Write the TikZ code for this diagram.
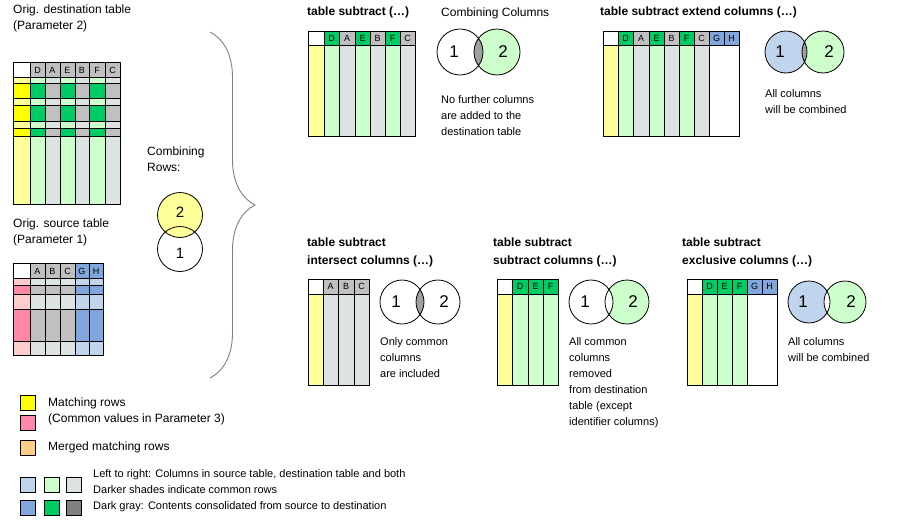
\documentclass[tikz,border=0pt]{standalone}
\usepackage{fontspec}
\setmainfont{Liberation Sans}
\usetikzlibrary{positioning,decorations.pathreplacing}

\definecolor{yelD}{HTML}{FFFF00}
\definecolor{yelL}{HTML}{FFFF99}
\definecolor{pinD}{HTML}{FF88A8}
\definecolor{pinL}{HTML}{FFCCCC}
\definecolor{grnD}{HTML}{00CC66}
\definecolor{grnL}{HTML}{CCFFCC}
\definecolor{gryD}{HTML}{C0C0C0}
\definecolor{gryL}{HTML}{DDE3E3}
\definecolor{bluD}{HTML}{7FA6DD}
\definecolor{bluL}{HTML}{C0D4EE}
\definecolor{orgL}{HTML}{FFCC88}
\definecolor{ovl}{HTML}{A0A0A0}

\tikzset{
  cell/.style={draw=black,line width=0.9pt},
  hdr/.style={font=\fontsize{9}{9}\selectfont,inner sep=0pt},
  txt/.style={font=\fontsize{12}{16}\selectfont,align=left,anchor=north west,inner sep=0pt},
  ttl/.style={txt,font=\fontsize{12}{18}\selectfont\bfseries},
  note/.style={font=\fontsize{11}{16}\selectfont,align=left,anchor=north west,inner sep=0pt},
  vnum/.style={font=\fontsize{17}{17}\selectfont,inner sep=0pt},
  key/.style={draw=black,line width=0.8pt,minimum size=15pt,inner sep=0pt},
}

% venn diagram: x1, x2, y, r, fill 1, fill 2, fill overlap, name
\newcommand\vennpair[8]{%
  \fill[#5] (#1,#3) circle (#4);
  \fill[#6] (#2,#3) circle (#4);
  \begin{scope}
    \clip (#1,#3) circle (#4);
    \fill[#7] (#2,#3) circle (#4);
  \end{scope}
  \draw[line width=0.8pt] (#1,#3) circle (#4) (#2,#3) circle (#4);
  \node[vnum] (#8-1) at ({#1-6},#3) {1};
  \node[vnum] (#8-2) at ({#2+6},#3) {2};
}

\begin{document}
\begin{tikzpicture}[x=1pt,y=-1pt]
  \useasboundingbox (0,0) rectangle (898,525);

  % original destination table
  \node[txt] (dtitle) at (13,5) {Orig. destination table\\(Parameter 2)};
  \foreach \xa/\xb/\cl/\cd/\lab in {13/30/yelL/yelD/,30/45/grnL/grnD/D,45/60/gryL/gryD/A,
      60/75/grnL/grnD/E,75/89/gryL/gryD/B,89/105/grnL/grnD/F,105/120/gryL/gryD/C} {
    \fill[\cl] (\xa,77) rectangle (\xb,204);
    \foreach \ya/\yb in {83/98,105/121,128/136}
      \fill[\cd] (\xa,\ya) rectangle (\xb,\yb);
    \draw[cell] (\xa,77) rectangle (\xb,204);
  }
  \foreach \xa/\xb/\lab in {30/45/D,45/60/A,60/75/E,75/89/B,89/105/F,105/120/C} {
    \filldraw[cell,fill=gryD] (\xa,62) rectangle (\xb,77);
    \node[hdr] (d-\lab) at ({(\xa+\xb)/2},70) {\lab};
  }
  \draw[cell] (13,62) rectangle (30,77);
  \foreach \yy in {83,98,105,121,128,136}
    \draw[cell] (13,\yy) -- (120,\yy);

  % original source table
  \node[txt] (stitle) at (13,219) {Orig. source table\\(Parameter 1)};
  \foreach \xa/\xb/\cl/\cd in {13/30/pinL/pinD,30/45/gryL/gryD,45/60/gryL/gryD,
      60/75/gryL/gryD,75/89/bluL/bluD,89/103/bluL/bluD} {
    \fill[\cl] (\xa,278) rectangle (\xb,355);
    \foreach \ya/\yb in {285/294,309/341}
      \fill[\cd] (\xa,\ya) rectangle (\xb,\yb);
    \draw[cell] (\xa,278) rectangle (\xb,355);
  }
  \foreach \xa/\xb/\hc/\lab in {30/45/gryD/A,45/60/gryD/B,60/75/gryD/C,75/89/bluD/G,89/103/bluD/H} {
    \filldraw[cell,fill=\hc] (\xa,263) rectangle (\xb,278);
    \node[hdr] (s-\lab) at ({(\xa+\xb)/2},271) {\lab};
  }
  \draw[cell] (13,263) rectangle (30,278);
  \foreach \yy in {285,294,309,341}
    \draw[cell] (13,\yy) -- (103,\yy);

  % combining rows
  \node[txt] (crows) at (147,147) {Combining\\Rows:};
  \fill[white] (180,249) circle (22.5);
  \filldraw[fill=yelL,line width=0.8pt] (180,215) circle (22.5);
  \draw[line width=0.8pt] (180,249) circle (22.5);
  \node[vnum,font=\fontsize{15}{15}\selectfont] (row-2) at (180,212) {2};
  \node[vnum,font=\fontsize{15}{15}\selectfont] (row-1) at (180,253) {1};
  \draw[gray,line width=0.9pt,decorate,decoration={brace,amplitude=45pt,aspect=0.5}]
    (210,32) -- (210,378);

  % table subtract
  \node[ttl] (t1) at (307,7) {table subtract (\dots)};
  \node[txt] (t1c) at (441,8) {Combining Columns};
  \fill[yelL] (308,45) rectangle (324,136);
  \draw[cell] (308,45) rectangle (324,136);
  \draw[cell] (308,31) rectangle (324,45);
  \foreach \xa/\xb/\hc/\bc/\lab in {324/339/grnD/grnL/D,339/355/gryD/gryL/A,355/370/grnD/grnL/E,
      370/385/gryD/gryL/B,385/400/grnD/grnL/F,400/415/gryD/gryL/C} {
    \filldraw[cell,fill=\bc] (\xa,45) rectangle (\xb,136);
    \filldraw[cell,fill=\hc] (\xa,31) rectangle (\xb,45);
    \node[hdr] (a-\lab) at ({(\xa+\xb)/2},38) {\lab};
  }
  \vennpair{460}{497}{52}{23}{white}{grnL}{ovl}{va}
  \node[note] (na) at (441,95) {No further columns\\are added to the\\destination table};

  % table subtract extend columns
  \node[ttl] (t2) at (600,7) {table subtract extend columns (\dots)};
  \fill[yelL] (603,45) rectangle (618,136);
  \draw[cell] (603,45) rectangle (618,136);
  \draw[cell] (603,31) rectangle (618,45);
  \foreach \xa/\xb/\hc/\bc/\lab in {618/633/grnD/grnL/D,633/649/gryD/gryL/A,649/664/grnD/grnL/E,
      664/679/gryD/gryL/B,679/694/grnD/grnL/F,694/709/gryD/gryL/C} {
    \filldraw[cell,fill=\bc] (\xa,45) rectangle (\xb,136);
    \filldraw[cell,fill=\hc] (\xa,31) rectangle (\xb,45);
    \node[hdr] (b-\lab) at ({(\xa+\xb)/2},38) {\lab};
  }
  \draw[cell] (709,45) rectangle (739,136);
  \foreach \xa/\xb/\lab in {709/724/G,724/739/H} {
    \filldraw[cell,fill=bluD] (\xa,31) rectangle (\xb,45);
    \node[hdr] (b-\lab) at ({(\xa+\xb)/2},38) {\lab};
  }
  \vennpair{786}{823}{52}{21}{bluL}{grnL}{ovl}{vb}
  \node[note] (nb) at (765,89) {All columns\\will be combined};

  % table subtract intersect columns
  \node[ttl] (t3) at (307,238) {table subtract\\intersect columns (\dots)};
  \fill[yelL] (308,294) rectangle (323,385);
  \draw[cell] (308,294) rectangle (323,385);
  \draw[cell] (308,279) rectangle (323,294);
  \foreach \xa/\xb/\lab in {323/338/A,338/354/B,354/369/C} {
    \filldraw[cell,fill=gryL] (\xa,294) rectangle (\xb,385);
    \filldraw[cell,fill=gryD] (\xa,279) rectangle (\xb,294);
    \node[hdr] (c-\lab) at ({(\xa+\xb)/2},286) {\lab};
  }
  \vennpair{402}{438}{302}{22}{white}{white}{ovl}{vc}
  \node[note] (nc) at (380,337) {Only common\\columns\\are included};

  % table subtract subtract columns
  \node[ttl] (t4) at (493,238) {table subtract\\subtract columns (\dots)};
  \fill[yelL] (497,294) rectangle (512,385);
  \draw[cell] (497,294) rectangle (512,385);
  \draw[cell] (497,279) rectangle (512,294);
  \foreach \xa/\xb/\lab in {512/528/D,528/543/E,543/558/F} {
    \filldraw[cell,fill=grnL] (\xa,294) rectangle (\xb,385);
    \filldraw[cell,fill=grnD] (\xa,279) rectangle (\xb,294);
    \node[hdr] (e-\lab) at ({(\xa+\xb)/2},286) {\lab};
  }
  \vennpair{591}{627}{302}{22}{white}{grnL}{white}{vd}
  \node[note] (nd) at (569,337) {All common\\columns\\removed\\from destination\\table (except\\identifier columns)};

  % table subtract exclusive columns
  \node[ttl] (t5) at (682,238) {table subtract\\exclusive columns (\dots)};
  \fill[yelL] (687,294) rectangle (702,385);
  \draw[cell] (687,294) rectangle (702,385);
  \draw[cell] (687,279) rectangle (702,294);
  \foreach \xa/\xb/\lab in {702/717/D,717/732/E,732/747/F} {
    \filldraw[cell,fill=grnL] (\xa,294) rectangle (\xb,385);
    \filldraw[cell,fill=grnD] (\xa,279) rectangle (\xb,294);
    \node[hdr] (f-\lab) at ({(\xa+\xb)/2},286) {\lab};
  }
  \draw[cell] (747,294) rectangle (777,385);
  \foreach \xa/\xb/\lab in {747/762/G,762/777/H} {
    \filldraw[cell,fill=bluD] (\xa,279) rectangle (\xb,294);
    \node[hdr] (f-\lab) at ({(\xa+\xb)/2},286) {\lab};
  }
  \vennpair{809}{845}{302}{21}{bluL}{grnL}{white}{ve}
  \node[note] (ne) at (788,337) {All columns\\will be combined};

  % legend
  \node[key,fill=yelD] (k1) at (28,403) {};
  \node[key,fill=pinD] (k2) at (28,423) {};
  \node[key,fill=orgL] (k3) at (28,448) {};
  \node[txt,anchor=west] (l1) at (48,403) {Matching rows};
  \node[txt,anchor=west] (l2) at (48,419) {(Common values in Parameter 3)};
  \node[txt,anchor=west] (l3) at (48,447) {Merged matching rows};
  \node[key,fill=bluL] (k4) at (28,485) {};
  \node[key,fill=grnL,right=8pt of k4] (k5) {};
  \node[key,fill=gryL,right=6pt of k5] (k6) {};
  \node[key,fill=bluD] (k7) at (28,508) {};
  \node[key,fill=grnD,right=8pt of k7] (k8) {};
  \node[key,fill=gray,right=6pt of k8] (k9) {};
  \node[note] (l4) at (93,469) {Left to right: Columns in source table, destination table and both\\Darker shades indicate common rows\\Dark gray: Contents consolidated from source to destination};
\end{tikzpicture}
\end{document}
